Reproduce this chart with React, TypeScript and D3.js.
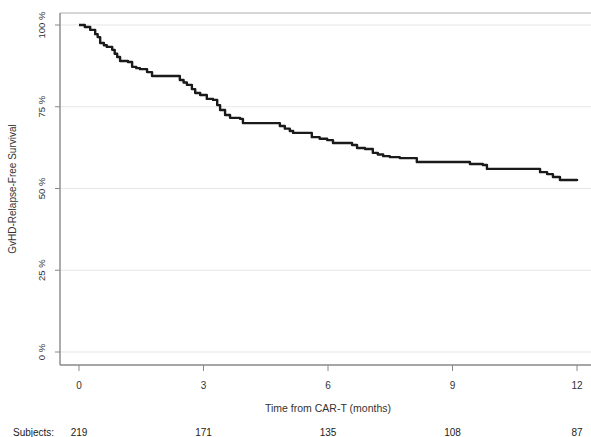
import React from "react";
import * as d3 from "d3";

const stepTimes = [0, 0.14, 0.27, 0.39, 0.45, 0.51, 0.6, 0.67, 0.8, 0.86, 0.92, 0.99, 1.18, 1.28, 1.38, 1.47, 1.64, 1.76, 2.31, 2.43, 2.52, 2.6, 2.72, 2.8, 2.92, 3.08, 3.23, 3.33, 3.4, 3.52, 3.64, 3.88, 3.95, 4.65, 4.84, 4.96, 5.08, 5.16, 5.52, 5.61, 5.8, 5.98, 6.12, 6.58, 6.7, 6.89, 7.08, 7.2, 7.33, 7.49, 7.73, 8.14, 9.25, 9.42, 9.73, 9.83, 10.7, 11.11, 11.28, 11.42, 11.59, 12.0];
const survival = [100, 99.4, 98.5, 97.2, 96.3, 94.5, 93.8, 93.3, 92.4, 91.2, 90.2, 89.0, 88.7, 87.2, 86.8, 86.5, 85.6, 84.4, 84.4, 83.2, 82.4, 81.7, 80.4, 79.2, 78.6, 77.4, 77.1, 75.5, 74.0, 72.5, 71.6, 71.3, 70.0, 70.0, 69.1, 68.3, 67.6, 67.0, 67.0, 65.7, 65.2, 64.8, 63.9, 63.3, 62.4, 62.1, 60.9, 60.4, 59.9, 59.6, 59.3, 58.1, 58.1, 57.5, 57.2, 56.0, 56.0, 55.0, 54.4, 53.5, 52.6, 52.3];

const xTicks = [0, 3, 6, 9, 12];
const yTicks = [0, 25, 50, 75, 100];
const subjects = ["219", "171", "135", "108", "87"];

const W = 591;
const H = 437;

export default function App() {
  const x = d3.scaleLinear().domain([0, 12]).range([79, 577]);
  const y = d3.scaleLinear().domain([0, 100]).range([352, 25]);
  const pts: [number, number][] = stepTimes.map((t, i) => [t, survival[i]]);
  const line = d3
    .line<[number, number]>()
    .x((d) => x(d[0]))
    .y((d) => y(d[1]))
    .curve(d3.curveStepAfter);
  const font = "Liberation Sans, Arial, sans-serif";
  const left = 60;
  const bottom = 365;
  const top = 13;
  return (
    <svg
      width={W}
      height={H}
      style={{ position: "absolute", left: 0, top: 0, background: "#fff" }}
      fontFamily={font}
    >
      <rect x={0} y={0} width={W} height={H} fill="#fff" />
      {yTicks.map((t) => (
        <line key={"g" + t} x1={left} x2={W} y1={y(t)} y2={y(t)} stroke="#e6e6e6" strokeWidth={1.2} />
      ))}
      <line x1={left} x2={W} y1={top} y2={top} stroke="#c8c8c8" strokeWidth={1.4} />
      <line x1={left} x2={left} y1={top} y2={bottom} stroke="#888" strokeWidth={1.4} />
      <line x1={left} x2={W} y1={bottom} y2={bottom} stroke="#888" strokeWidth={1.4} />
      {yTicks.map((t) => (
        <g key={"y" + t}>
          <line x1={55} x2={left} y1={y(t)} y2={y(t)} stroke="#888" strokeWidth={1} />
          <text
            transform={`translate(45,${y(t)}) rotate(-90)`}
            textAnchor="middle"
            fontSize={9.5}
            fill="#333"
          >
            {t} %
          </text>
        </g>
      ))}
      {xTicks.map((t, i) => (
        <g key={"x" + t}>
          <line x1={x(t)} x2={x(t)} y1={bottom} y2={371} stroke="#888" strokeWidth={1} />
          <text x={x(t)} y={389} textAnchor="middle" fontSize={10} fill="#333">
            {t}
          </text>
          <text x={x(t)} y={436} textAnchor="middle" fontSize={10} fill="#222">
            {subjects[i]}
          </text>
        </g>
      ))}
      <text x={13} y={436} fontSize={10} fill="#222">
        Subjects:
      </text>
      <text x={328} y={412} textAnchor="middle" fontSize={10.5} fill="#333">
        Time from CAR-T (months)
      </text>
      <text
        transform={`translate(16,189) rotate(-90)`}
        textAnchor="middle"
        fontSize={10}
        fill="#333"
      >
        GvHD-Relapse-Free Survival
      </text>
      <path d={line(pts) ?? ""} fill="none" stroke="#1a1a1a" strokeWidth={2.4} strokeLinejoin="round" />
    </svg>
  );
}
